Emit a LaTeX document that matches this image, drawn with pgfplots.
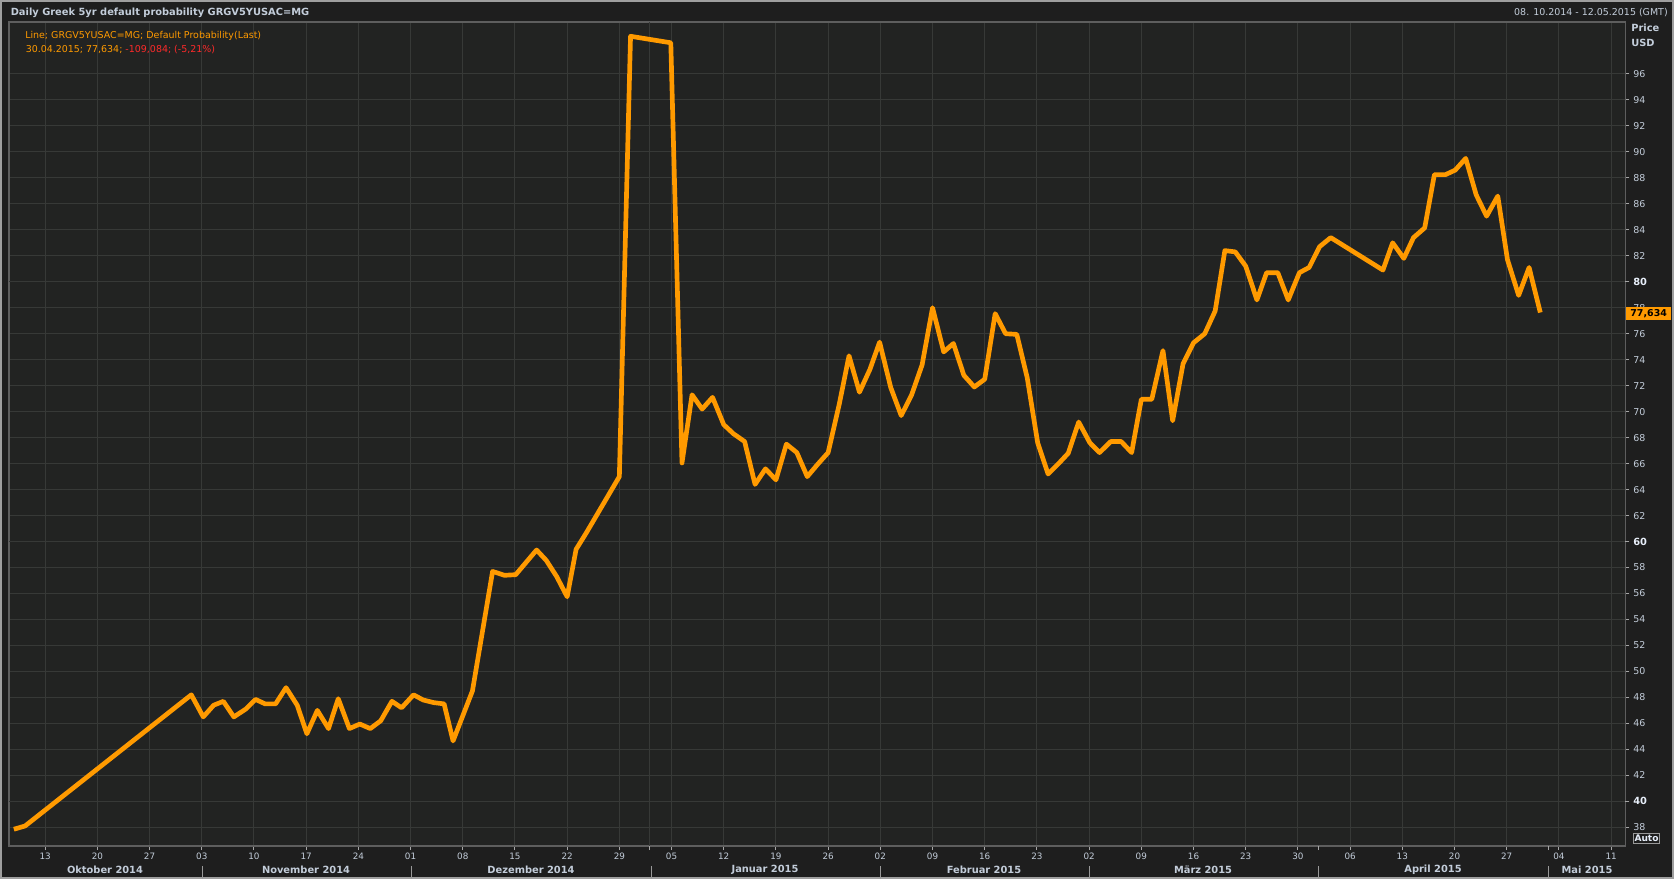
\documentclass[border=0pt]{standalone}
\usepackage{fontspec}
\setmainfont{DejaVu Sans}
\usepackage{pgfplots}
\pgfplotsset{compat=1.18}

\definecolor{bgout}{HTML}{1E1E1E}
\definecolor{bgplot}{HTML}{222322}
\definecolor{gridc}{HTML}{373937}
\definecolor{framec}{HTML}{5E5E5E}
\definecolor{txt}{HTML}{C3CDDA}
\definecolor{txtb}{HTML}{E8EFFA}
\definecolor{lineor}{HTML}{FF9A00}
\definecolor{redtxt}{HTML}{FF2A2A}

\newcommand\reg{\fontsize{7.1}{8.5}\selectfont}
\newcommand\bld{\fontsize{7.4}{8.8}\selectfont\bfseries}

\begin{document}
\begin{tikzpicture}[x=0.75pt,y=0.75pt]
\useasboundingbox (0,0) rectangle (1674,879);
\fill[bgout] (0,0) rectangle (1674,879);
\draw[line width=1.2pt,color=gray!75] (1,1) rectangle (1673,878);

\begin{axis}[
  at={(6.75pt,642.75pt)}, anchor=north west, scale only axis,
  width=1212.2pt, height=618pt,
  xmin=0.15, xmax=216.9, ymin=36.56, ymax=100,
  axis background/.style={fill=bgplot},
  axis line style={draw=framec, line width=0.8pt},
  grid=major, major grid style={draw=gridc, line width=0.75pt},
  tick align=outside, major tick length=3pt,
  tick style={draw=gray!70, line width=0.75pt},
  xtick pos=bottom, ytick pos=right, yticklabel pos=right,
  xtick={5,12,...,215},
  xticklabels={13,20,27,03,10,17,24,01,08,15,22,29,05,12,19,26,02,09,16,23,02,09,16,23,30,06,13,20,27,04,11},
  xticklabel style={text=txt, font=\fontsize{6.6}{8}\selectfont, anchor=north, inner sep=0pt, yshift=-2.2pt},
  extra x ticks={86.1,175.7,206.6}, extra x tick labels={},
  extra x tick style={grid=none},
  ytick={38,42,44,...,58,62,64,...,78,82,84,...,96},
  extra y ticks={40,60,80},
  extra y tick style={grid=major, yticklabel style={font=\bld, text=txtb}},
  yticklabel style={text=txt, font=\reg, anchor=west, inner sep=0pt, xshift=2.8pt},
  /pgf/number format/assume math mode=true,
]
\draw[gridc, line width=0.75pt] (axis cs:86.1,36.56) -- (axis cs:86.1,100);
\addplot[lineor, line width=3.5pt, line join=round, mark=none] coordinates {
(0.8,37.85) (2.3,38.1) (24.6,48.2) (26.2,46.5) (27.6,47.4) (28.9,47.7)
(30.3,46.5) (31.9,47.1) (33.2,47.85) (34.5,47.5) (35.9,47.5) (37.3,48.75)
(38.8,47.4) (40.1,45.2) (41.5,47.0) (43.0,45.6) (44.3,47.9) (45.8,45.6)
(47.2,45.95) (48.6,45.6) (50.0,46.2) (51.5,47.7) (52.8,47.2) (54.4,48.2)
(55.7,47.8) (57.1,47.6) (58.5,47.5) (59.7,44.65) (62.3,48.5) (65.0,57.7)
(66.6,57.4) (68.1,57.45) (70.9,59.35) (72.2,58.55) (73.6,57.3) (75.0,55.75)
(76.2,59.4) (77.6,60.7) (82.0,65.0) (83.5,98.9) (88.9,98.4) (90.4,66.05)
(91.75,71.3) (93.1,70.2) (94.5,71.1) (96.0,69.0) (97.3,68.3) (98.8,67.7)
(100.2,64.4) (101.6,65.6) (103.0,64.75) (104.4,67.5) (105.8,66.85) (107.2,65.0)
(108.6,65.95) (110.0,66.85) (111.5,70.6) (112.8,74.3) (114.2,71.5) (115.6,73.25)
(116.9,75.35) (118.4,71.85) (119.8,69.7) (121.2,71.3) (122.6,73.6) (124.0,78.0)
(125.5,74.6) (126.8,75.25) (128.2,72.8) (129.6,71.9) (131.0,72.5) (132.4,77.55)
(133.8,76.0) (135.3,75.95) (136.7,72.6) (138.1,67.6) (139.5,65.2) (140.9,66.0)
(142.2,66.8) (143.6,69.2) (145.1,67.6) (146.4,66.85) (147.9,67.7) (149.3,67.7)
(150.7,66.85) (152.0,70.95) (153.4,70.95) (154.9,74.7) (156.2,69.3) (157.6,73.7)
(159.0,75.3) (160.5,76.0) (161.9,77.75) (163.2,82.4) (164.6,82.3) (166.0,81.2)
(167.5,78.6) (168.8,80.7) (170.3,80.7) (171.7,78.6) (173.2,80.7) (174.5,81.1)
(175.9,82.7) (177.4,83.4) (184.4,80.9) (185.7,83.0) (187.2,81.8) (188.5,83.4)
(190.0,84.15) (191.3,88.25) (192.8,88.25) (194.1,88.6) (195.5,89.5) (196.9,86.7)
(198.3,85.05) (199.8,86.6) (201.1,81.7) (202.6,78.95) (204.0,81.1) (205.5,77.634)
};
\end{axis}

% header
\node[anchor=west, text=txt, font=\bld, inner sep=0pt] at (10.5,866.3)
  {Daily Greek 5yr default probability GRGV5YUSAC=MG};
\node[anchor=east, text=txt, font=\reg, inner sep=0pt] at (1668,866.3)
  {08. 10.2014 - 12.05.2015 (GMT)};
\node[anchor=west, text=txt, font=\bld, inner sep=0pt] at (1631,850.7) {Price};
\node[anchor=west, text=txt, font=\bld, inner sep=0pt] at (1631,836.3) {USD};

% series caption
\node[anchor=west, text=lineor, font=\reg, inner sep=0pt] at (25,843.3)
  {Line; GRGV5YUSAC=MG; Default Probability(Last)};
\node[anchor=west, text=lineor, font=\reg, inner sep=0pt] at (25.5,829)
  {30.04.2015; 77,634; \textcolor{redtxt}{-109,084; (-5,21\%)}};

% last value box
\node[anchor=west, fill=lineor, text=black, font=\fontsize{7.1}{8.5}\selectfont\bfseries,
  inner xsep=1.5pt, inner ysep=0pt, minimum height=9.9pt, minimum width=34pt, align=left]
  at (1625.7,565.8) {77,634\hfill};

% Auto button
\node[draw=gray!80, line width=0.6pt, text=txtb, font=\fontsize{6.8}{8}\selectfont\bfseries,
  inner xsep=1pt, inner ysep=1.2pt] at (1646.5,40.5) {Auto};

% month row
\foreach \sx in {202.5,411.4,651,880,1089,1318.5,1548.7}
  \draw[gray!80, line width=0.75pt] (\sx,0) -- (\sx,13.3);
\foreach \mx/\mname in {105/Oktober 2014,306/November 2014,531/Dezember 2014,765/Januar 2015,
  984/Februar 2015,1203/März 2015,1433/April 2015,1587/Mai 2015}
  \node[text=txt, font=\bld, inner sep=0pt] at (\mx,9.5) {\mname};
\end{tikzpicture}
\end{document}
